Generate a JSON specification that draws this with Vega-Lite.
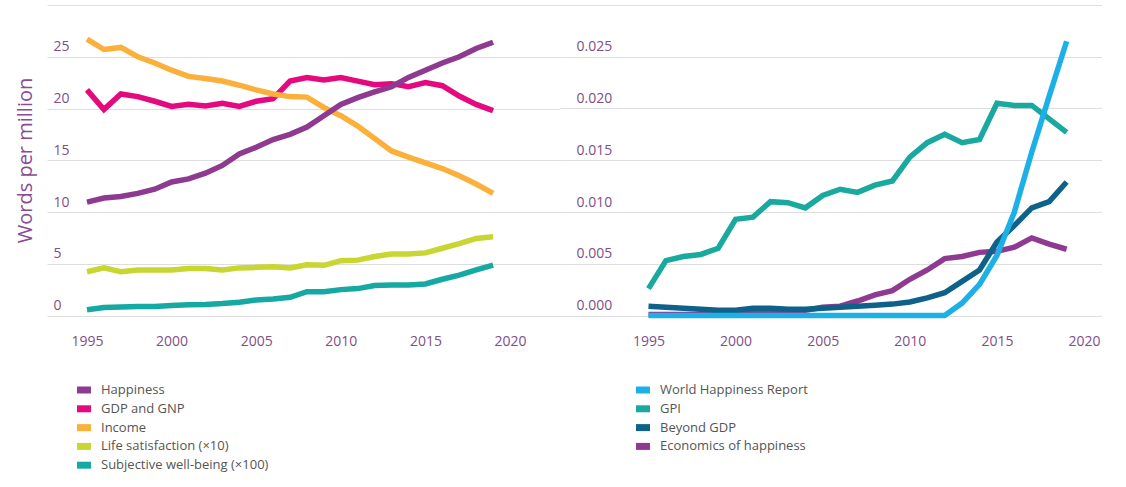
{
  "$schema": "https://vega.github.io/schema/vega-lite/v6.json",
  "autosize": {"type": "pad"},
  "padding": {"left": 15, "top": 5, "right": 0, "bottom": 0},
  "background": "white",
  "config": {
    "view": {"stroke": null},
    "concat": {"spacing": 0},
    "font": "Open Sans"
  },
  "resolve": {"scale": {"color": "independent", "y": "independent", "x": "independent"}, "legend": {"color": "independent"}},
  "datasets": {
    "left": [
      {"series":"GDP and GNP","year":1995,"value":21.8},{"series":"GDP and GNP","year":1996,"value":19.9},{"series":"GDP and GNP","year":1997,"value":21.4},{"series":"GDP and GNP","year":1998,"value":21.15},{"series":"GDP and GNP","year":1999,"value":20.7},{"series":"GDP and GNP","year":2000,"value":20.2},{"series":"GDP and GNP","year":2001,"value":20.4},{"series":"GDP and GNP","year":2002,"value":20.25},{"series":"GDP and GNP","year":2003,"value":20.5},{"series":"GDP and GNP","year":2004,"value":20.2},{"series":"GDP and GNP","year":2005,"value":20.7},{"series":"GDP and GNP","year":2006,"value":20.95},{"series":"GDP and GNP","year":2007,"value":22.65},{"series":"GDP and GNP","year":2008,"value":23.0},{"series":"GDP and GNP","year":2009,"value":22.75},{"series":"GDP and GNP","year":2010,"value":23.0},{"series":"GDP and GNP","year":2011,"value":22.65},{"series":"GDP and GNP","year":2012,"value":22.3},{"series":"GDP and GNP","year":2013,"value":22.4},{"series":"GDP and GNP","year":2014,"value":22.1},{"series":"GDP and GNP","year":2015,"value":22.5},{"series":"GDP and GNP","year":2016,"value":22.2},{"series":"GDP and GNP","year":2017,"value":21.2},{"series":"GDP and GNP","year":2018,"value":20.4},{"series":"GDP and GNP","year":2019,"value":19.8},
      {"series":"Income","year":1995,"value":26.7},{"series":"Income","year":1996,"value":25.7},{"series":"Income","year":1997,"value":25.9},{"series":"Income","year":1998,"value":25.0},{"series":"Income","year":1999,"value":24.4},{"series":"Income","year":2000,"value":23.7},{"series":"Income","year":2001,"value":23.1},{"series":"Income","year":2002,"value":22.9},{"series":"Income","year":2003,"value":22.65},{"series":"Income","year":2004,"value":22.25},{"series":"Income","year":2005,"value":21.8},{"series":"Income","year":2006,"value":21.4},{"series":"Income","year":2007,"value":21.15},{"series":"Income","year":2008,"value":21.1},{"series":"Income","year":2009,"value":20.1},{"series":"Income","year":2010,"value":19.3},{"series":"Income","year":2011,"value":18.3},{"series":"Income","year":2012,"value":17.1},{"series":"Income","year":2013,"value":15.9},{"series":"Income","year":2014,"value":15.3},{"series":"Income","year":2015,"value":14.75},{"series":"Income","year":2016,"value":14.2},{"series":"Income","year":2017,"value":13.5},{"series":"Income","year":2018,"value":12.7},{"series":"Income","year":2019,"value":11.8},
      {"series":"Happiness","year":1995,"value":10.96},{"series":"Happiness","year":1996,"value":11.35},{"series":"Happiness","year":1997,"value":11.5},{"series":"Happiness","year":1998,"value":11.8},{"series":"Happiness","year":1999,"value":12.2},{"series":"Happiness","year":2000,"value":12.9},{"series":"Happiness","year":2001,"value":13.2},{"series":"Happiness","year":2002,"value":13.75},{"series":"Happiness","year":2003,"value":14.5},{"series":"Happiness","year":2004,"value":15.6},{"series":"Happiness","year":2005,"value":16.25},{"series":"Happiness","year":2006,"value":17.0},{"series":"Happiness","year":2007,"value":17.5},{"series":"Happiness","year":2008,"value":18.2},{"series":"Happiness","year":2009,"value":19.3},{"series":"Happiness","year":2010,"value":20.4},{"series":"Happiness","year":2011,"value":21.05},{"series":"Happiness","year":2012,"value":21.6},{"series":"Happiness","year":2013,"value":22.1},{"series":"Happiness","year":2014,"value":23.0},{"series":"Happiness","year":2015,"value":23.7},{"series":"Happiness","year":2016,"value":24.4},{"series":"Happiness","year":2017,"value":25.0},{"series":"Happiness","year":2018,"value":25.8},{"series":"Happiness","year":2019,"value":26.4},
      {"series":"Life satisfaction (×10)","year":1995,"value":4.23},{"series":"Life satisfaction (×10)","year":1996,"value":4.6},{"series":"Life satisfaction (×10)","year":1997,"value":4.23},{"series":"Life satisfaction (×10)","year":1998,"value":4.4},{"series":"Life satisfaction (×10)","year":1999,"value":4.4},{"series":"Life satisfaction (×10)","year":2000,"value":4.4},{"series":"Life satisfaction (×10)","year":2001,"value":4.55},{"series":"Life satisfaction (×10)","year":2002,"value":4.55},{"series":"Life satisfaction (×10)","year":2003,"value":4.4},{"series":"Life satisfaction (×10)","year":2004,"value":4.6},{"series":"Life satisfaction (×10)","year":2005,"value":4.65},{"series":"Life satisfaction (×10)","year":2006,"value":4.7},{"series":"Life satisfaction (×10)","year":2007,"value":4.6},{"series":"Life satisfaction (×10)","year":2008,"value":4.9},{"series":"Life satisfaction (×10)","year":2009,"value":4.85},{"series":"Life satisfaction (×10)","year":2010,"value":5.3},{"series":"Life satisfaction (×10)","year":2011,"value":5.35},{"series":"Life satisfaction (×10)","year":2012,"value":5.7},{"series":"Life satisfaction (×10)","year":2013,"value":5.95},{"series":"Life satisfaction (×10)","year":2014,"value":5.95},{"series":"Life satisfaction (×10)","year":2015,"value":6.05},{"series":"Life satisfaction (×10)","year":2016,"value":6.5},{"series":"Life satisfaction (×10)","year":2017,"value":6.95},{"series":"Life satisfaction (×10)","year":2018,"value":7.45},{"series":"Life satisfaction (×10)","year":2019,"value":7.6},
      {"series":"Subjective well-being (×100)","year":1995,"value":0.55},{"series":"Subjective well-being (×100)","year":1996,"value":0.77},{"series":"Subjective well-being (×100)","year":1997,"value":0.83},{"series":"Subjective well-being (×100)","year":1998,"value":0.87},{"series":"Subjective well-being (×100)","year":1999,"value":0.87},{"series":"Subjective well-being (×100)","year":2000,"value":0.96},{"series":"Subjective well-being (×100)","year":2001,"value":1.03},{"series":"Subjective well-being (×100)","year":2002,"value":1.06},{"series":"Subjective well-being (×100)","year":2003,"value":1.15},{"series":"Subjective well-being (×100)","year":2004,"value":1.28},{"series":"Subjective well-being (×100)","year":2005,"value":1.5},{"series":"Subjective well-being (×100)","year":2006,"value":1.6},{"series":"Subjective well-being (×100)","year":2007,"value":1.76},{"series":"Subjective well-being (×100)","year":2008,"value":2.3},{"series":"Subjective well-being (×100)","year":2009,"value":2.3},{"series":"Subjective well-being (×100)","year":2010,"value":2.5},{"series":"Subjective well-being (×100)","year":2011,"value":2.6},{"series":"Subjective well-being (×100)","year":2012,"value":2.9},{"series":"Subjective well-being (×100)","year":2013,"value":2.95},{"series":"Subjective well-being (×100)","year":2014,"value":2.95},{"series":"Subjective well-being (×100)","year":2015,"value":3.05},{"series":"Subjective well-being (×100)","year":2016,"value":3.5},{"series":"Subjective well-being (×100)","year":2017,"value":3.9},{"series":"Subjective well-being (×100)","year":2018,"value":4.4},{"series":"Subjective well-being (×100)","year":2019,"value":4.87}
    ],
    "right": [
      {"series":"Economics of happiness","year":1995,"value":0.0001},{"series":"Economics of happiness","year":1996,"value":0.0001},{"series":"Economics of happiness","year":1997,"value":0.0001},{"series":"Economics of happiness","year":1998,"value":0.0001},{"series":"Economics of happiness","year":1999,"value":0.0001},{"series":"Economics of happiness","year":2000,"value":0.0001},{"series":"Economics of happiness","year":2001,"value":0.0002},{"series":"Economics of happiness","year":2002,"value":0.0002},{"series":"Economics of happiness","year":2003,"value":0.0003},{"series":"Economics of happiness","year":2004,"value":0.0005},{"series":"Economics of happiness","year":2005,"value":0.0008},{"series":"Economics of happiness","year":2006,"value":0.0009},{"series":"Economics of happiness","year":2007,"value":0.0014},{"series":"Economics of happiness","year":2008,"value":0.0020},{"series":"Economics of happiness","year":2009,"value":0.0024},{"series":"Economics of happiness","year":2010,"value":0.0035},{"series":"Economics of happiness","year":2011,"value":0.0044},{"series":"Economics of happiness","year":2012,"value":0.0055},{"series":"Economics of happiness","year":2013,"value":0.0057},{"series":"Economics of happiness","year":2014,"value":0.0061},{"series":"Economics of happiness","year":2015,"value":0.0062},{"series":"Economics of happiness","year":2016,"value":0.0066},{"series":"Economics of happiness","year":2017,"value":0.0075},{"series":"Economics of happiness","year":2018,"value":0.0069},{"series":"Economics of happiness","year":2019,"value":0.0064},
      {"series":"GPI","year":1995,"value":0.0026},{"series":"GPI","year":1996,"value":0.0053},{"series":"GPI","year":1997,"value":0.0057},{"series":"GPI","year":1998,"value":0.0059},{"series":"GPI","year":1999,"value":0.0065},{"series":"GPI","year":2000,"value":0.0093},{"series":"GPI","year":2001,"value":0.0095},{"series":"GPI","year":2002,"value":0.0110},{"series":"GPI","year":2003,"value":0.0109},{"series":"GPI","year":2004,"value":0.0104},{"series":"GPI","year":2005,"value":0.0116},{"series":"GPI","year":2006,"value":0.0122},{"series":"GPI","year":2007,"value":0.0119},{"series":"GPI","year":2008,"value":0.0126},{"series":"GPI","year":2009,"value":0.0130},{"series":"GPI","year":2010,"value":0.0153},{"series":"GPI","year":2011,"value":0.0167},{"series":"GPI","year":2012,"value":0.0175},{"series":"GPI","year":2013,"value":0.0167},{"series":"GPI","year":2014,"value":0.0170},{"series":"GPI","year":2015,"value":0.0205},{"series":"GPI","year":2016,"value":0.0203},{"series":"GPI","year":2017,"value":0.0203},{"series":"GPI","year":2018,"value":0.0190},{"series":"GPI","year":2019,"value":0.0177},
      {"series":"Beyond GDP","year":1995,"value":0.0009},{"series":"Beyond GDP","year":1996,"value":0.0008},{"series":"Beyond GDP","year":1997,"value":0.0007},{"series":"Beyond GDP","year":1998,"value":0.0006},{"series":"Beyond GDP","year":1999,"value":0.0005},{"series":"Beyond GDP","year":2000,"value":0.0005},{"series":"Beyond GDP","year":2001,"value":0.0007},{"series":"Beyond GDP","year":2002,"value":0.0007},{"series":"Beyond GDP","year":2003,"value":0.0006},{"series":"Beyond GDP","year":2004,"value":0.0006},{"series":"Beyond GDP","year":2005,"value":0.0007},{"series":"Beyond GDP","year":2006,"value":0.0008},{"series":"Beyond GDP","year":2007,"value":0.0009},{"series":"Beyond GDP","year":2008,"value":0.0010},{"series":"Beyond GDP","year":2009,"value":0.0011},{"series":"Beyond GDP","year":2010,"value":0.0013},{"series":"Beyond GDP","year":2011,"value":0.0017},{"series":"Beyond GDP","year":2012,"value":0.0022},{"series":"Beyond GDP","year":2013,"value":0.0033},{"series":"Beyond GDP","year":2014,"value":0.0044},{"series":"Beyond GDP","year":2015,"value":0.0071},{"series":"Beyond GDP","year":2016,"value":0.0087},{"series":"Beyond GDP","year":2017,"value":0.0104},{"series":"Beyond GDP","year":2018,"value":0.0110},{"series":"Beyond GDP","year":2019,"value":0.0129},
      {"series":"World Happiness Report","year":1995,"value":0},{"series":"World Happiness Report","year":1996,"value":0},{"series":"World Happiness Report","year":1997,"value":0},{"series":"World Happiness Report","year":1998,"value":0},{"series":"World Happiness Report","year":1999,"value":0},{"series":"World Happiness Report","year":2000,"value":0},{"series":"World Happiness Report","year":2001,"value":0},{"series":"World Happiness Report","year":2002,"value":0},{"series":"World Happiness Report","year":2003,"value":0},{"series":"World Happiness Report","year":2004,"value":0},{"series":"World Happiness Report","year":2005,"value":0},{"series":"World Happiness Report","year":2006,"value":0},{"series":"World Happiness Report","year":2007,"value":0},{"series":"World Happiness Report","year":2008,"value":0},{"series":"World Happiness Report","year":2009,"value":0},{"series":"World Happiness Report","year":2010,"value":0},{"series":"World Happiness Report","year":2011,"value":0},{"series":"World Happiness Report","year":2012,"value":0},{"series":"World Happiness Report","year":2013,"value":0.0012},{"series":"World Happiness Report","year":2014,"value":0.0030},{"series":"World Happiness Report","year":2015,"value":0.0058},{"series":"World Happiness Report","year":2016,"value":0.0100},{"series":"World Happiness Report","year":2017,"value":0.0158},{"series":"World Happiness Report","year":2018,"value":0.0212},{"series":"World Happiness Report","year":2019,"value":0.0265}
    ]
  },
  "hconcat": [
    {
      "width": 513,
      "height": 310.5,
      "data": {"name": "left"},
      "mark": {"type": "line", "strokeWidth": 5.5, "strokeCap": "butt"},
      "encoding": {
        "x": {
          "field": "year", "type": "quantitative",
          "scale": {"domain": [1992.636, 2022.955], "nice": false, "zero": false},
          "axis": {"title": null, "values": [1995, 2000, 2005, 2010, 2015, 2020], "format": "d", "grid": false, "domain": false, "ticks": false, "tickSize": 0, "labelPadding": 19, "labelFlush": false, "labelFont": "Open Sans", "labelFontSize": 14, "labelColor": "#7e4f88"}
        },
        "y": {
          "field": "value", "type": "quantitative",
          "scale": {"domain": [0, 30], "nice": false},
          "axis": {
            "title": "Words per million",
            "values": [0, 5, 10, 15, 20, 25, 30],
            "labelExpr": "datum.value >= 30 ? '' : datum.label",
            "grid": true, "gridColor": "#dedede", "gridWidth": 1,
            "domain": false, "ticks": false, "tickSize": 0,
            "labelAlign": "left", "labelPadding": -6, "labelBaseline": "alphabetic", "labelOffset": -6,
            "labelFont": "Open Sans", "labelFontSize": 14, "labelColor": "#7e4f88",
            "titleFont": "Open Sans", "titleFontSize": 20, "titleColor": "#8a4b95", "titleFontWeight": "normal",
            "titleX": -22, "titleY": 155, "titleAngle": -90, "titleBaseline": "middle", "titleAlign": "center"
          }
        },
        "color": {
          "field": "series", "type": "nominal",
          "scale": {
            "domain": ["Happiness", "GDP and GNP", "Income", "Life satisfaction (×10)", "Subjective well-being (×100)"],
            "range": ["#8e3a90", "#e5097f", "#fbb03b", "#c7d630", "#16a9a3"]
          },
          "legend": {
            "orient": "none", "legendX": 30, "legendY": 378, "title": null,
            "symbolType": "M-1,-0.5H1V0.5H-1Z", "symbolSize": 196, "symbolStrokeWidth": 0,
            "labelFont": "Open Sans", "labelFontSize": 13, "labelColor": "#555555", "labelOffset": 10, "labelLimit": 400, "rowPadding": 4.8, "direction": "vertical", "padding": 0,
            "encode": {"symbols": {"update": {"fill": {"signal": "datum.value === 'Happiness' ? '#8e3a90' : datum.value === 'GDP and GNP' ? '#e5097f' : datum.value === 'Income' ? '#fbb03b' : datum.value === 'Life satisfaction (×10)' ? '#c7d630' : '#16a9a3'"}, "strokeWidth": {"value": 0}}}}
          }
        }
      }
    },
    {
      "width": 542,
      "height": 310.5,
      "data": {"name": "right"},
      "mark": {"type": "line", "strokeWidth": 5.5, "strokeCap": "butt"},
      "encoding": {
        "x": {
          "field": "year", "type": "quantitative",
          "scale": {"domain": [1989.92, 2021.03], "nice": false, "zero": false},
          "axis": {"title": null, "values": [1995, 2000, 2005, 2010, 2015, 2020], "format": "d", "grid": false, "domain": false, "ticks": false, "tickSize": 0, "labelPadding": 19, "labelFlush": false, "labelFont": "Open Sans", "labelFontSize": 14, "labelColor": "#7e4f88"}
        },
        "y": {
          "field": "value", "type": "quantitative",
          "scale": {"domain": [0, 0.03], "nice": false},
          "axis": {
            "title": null,
            "values": [0, 0.005, 0.01, 0.015, 0.02, 0.025, 0.03],
            "labelExpr": "datum.value >= 0.0299 ? '' : format(datum.value, '.3f')",
            "grid": true, "gridColor": "#dedede", "gridWidth": 1,
            "domain": false, "ticks": false, "tickSize": 0,
            "labelAlign": "left", "labelPadding": -16, "labelBaseline": "alphabetic", "labelOffset": -6,
            "labelFont": "Open Sans", "labelFontSize": 14, "labelColor": "#7e4f88"
          }
        },
        "color": {
          "field": "series", "type": "nominal",
          "scale": {
            "domain": ["World Happiness Report", "GPI", "Beyond GDP", "Economics of happiness"],
            "range": ["#1cb0e6", "#1aa99f", "#0e6289", "#8e3a90"]
          },
          "legend": {
            "orient": "none", "legendX": 76, "legendY": 378, "title": null,
            "symbolType": "M-1,-0.5H1V0.5H-1Z", "symbolSize": 196, "symbolStrokeWidth": 0,
            "labelFont": "Open Sans", "labelFontSize": 13, "labelColor": "#555555", "labelOffset": 10, "labelLimit": 400, "rowPadding": 4.8, "direction": "vertical", "padding": 0,
            "encode": {"symbols": {"update": {"fill": {"signal": "datum.value === 'World Happiness Report' ? '#1cb0e6' : datum.value === 'GPI' ? '#1aa99f' : datum.value === 'Beyond GDP' ? '#0e6289' : '#8e3a90'"}, "strokeWidth": {"value": 0}}}}
          }
        }
      }
    }
  ]
}
